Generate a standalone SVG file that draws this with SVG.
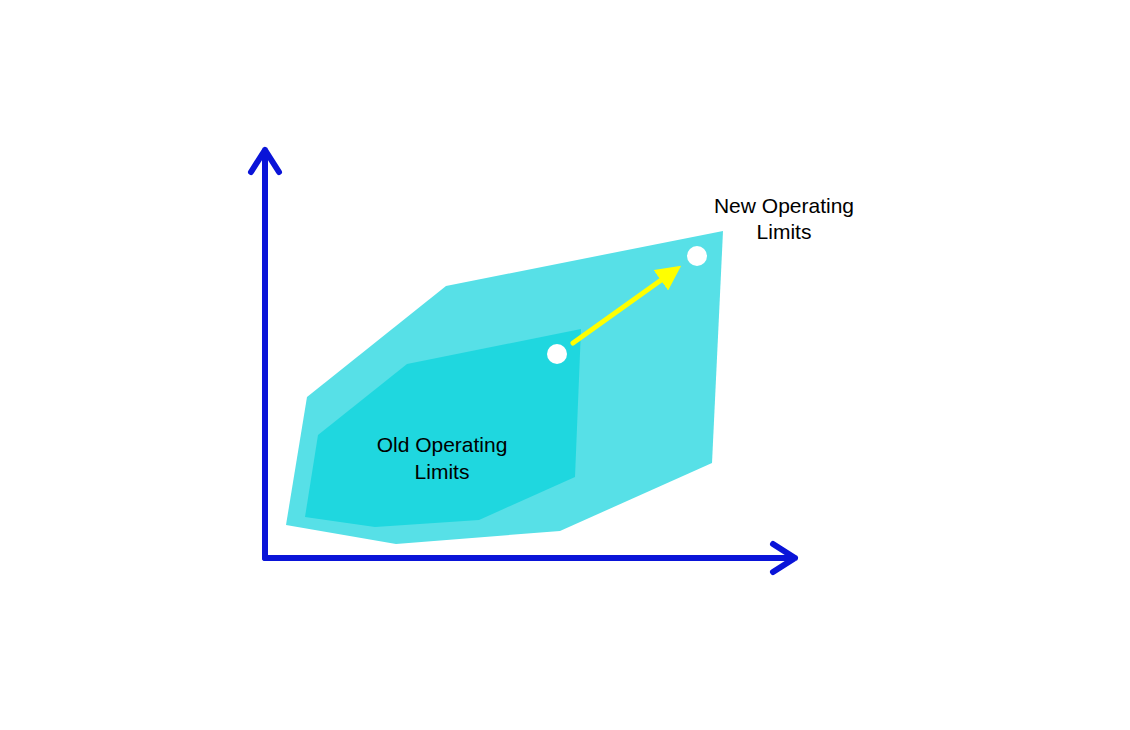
<svg xmlns="http://www.w3.org/2000/svg" width="1130" height="730" viewBox="0 0 1130 730">
<style>
.t{font-family:"Liberation Sans",Arial,sans-serif;font-size:21px;fill:#000;text-anchor:middle}
.ax{stroke:#0a14d8;stroke-width:6;fill:none;stroke-linecap:round;stroke-linejoin:round}
</style>
<defs><marker id="ya" markerWidth="5" markerHeight="5" refX="2.5" refY="2.5" orient="auto"><path d="M0,0 L5,2.5 L0,5 Z" fill="#ffff00"/></marker></defs>
<rect width="1130" height="730" fill="#fff"/>
<g id="new-limits"><polygon points="286,525 307,397 446,286 723,231 712,463 560,531 396,544" fill="#57e0e7"/></g>
<g id="old-limits"><polygon points="305,517 318,435 407,364 581,329 575,477 479,520 375,527" fill="#1fd7df"/>
<text class="t" x="442" y="452">Old Operating</text><text class="t" x="442" y="479">Limits</text></g>
<g id="old-point"><circle cx="557" cy="354" r="10" fill="#fff"/></g>
<g id="new-point"><circle cx="697" cy="256" r="10" fill="#fff"/></g>
<g id="new-label"><text class="t" x="784" y="213">New Operating</text><text class="t" x="784" y="239">Limits</text></g>
<g id="connectors">
<line x1="573" y1="343" x2="671" y2="273" stroke="#ffff00" stroke-width="5" stroke-linecap="round" marker-end="url(#ya)"/>
<path class="ax" d="M265,558 V150 M251,172 L265,150 L279,172"/>
<path class="ax" d="M265,558 H795 M773,544 L795,558 L773,572"/>
</g>
</svg>
